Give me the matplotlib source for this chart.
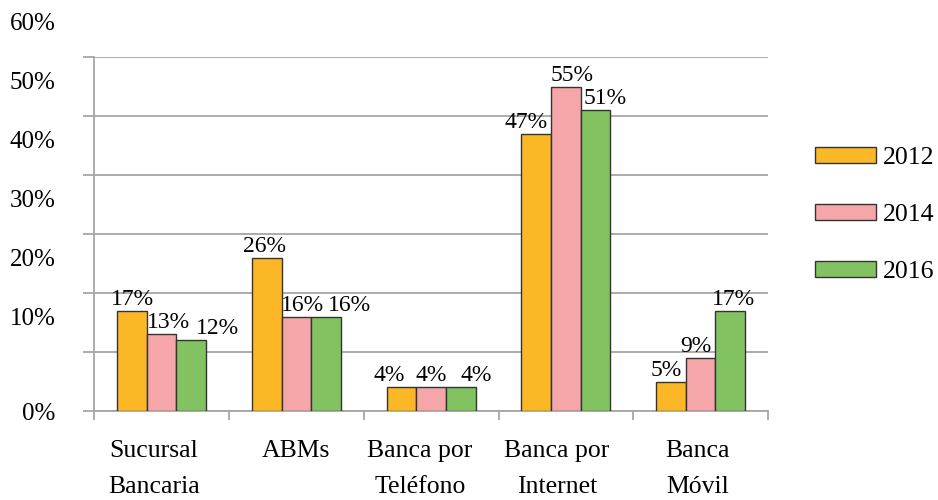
import numpy as np
import matplotlib.pyplot as plt

plt.rcParams['font.family'] = ['Liberation Serif', 'DejaVu Serif']
plt.rcParams['font.size'] = 17

# datos
canales = ['Sucursal\nBancaria', 'ABMs', 'Banca por\nTeléfono', 'Banca por\nInternet', 'Banca\nMóvil']
anios = ['2012', '2014', '2016']
v2012 = [17, 26, 4, 47, 5]
v2014 = [13, 16, 4, 55, 9]
v2016 = [12, 16, 4, 51, 17]
y_ticks = [0, 10, 20, 30, 40, 50, 60]

colores = ['#FBB726', '#F5A6A8', '#82C260']
# desplazamiento horizontal de cada etiqueta (px) para que no se encimen
ajuste_x = [[0, -2, -12, -10, -5],
            [7, 6, 0, 6, -5],
            [26, 23, 15, 10, 3]]
# corrimiento de las etiquetas de categoría (px)
ajuste_cat = [-8, 0, -11, -9, -3]

fig = plt.figure(figsize=(9.38, 5.0), dpi=100)
ax = fig.add_axes([94.3 / 938, 89 / 500, 673.7 / 938, 354 / 500])

x = np.arange(len(canales))
ancho = 0.22
series = [v2012, v2014, v2016]
for i, (vals, col, lab) in enumerate(zip(series, colores, anios)):
    pos = x + (i - 1) * ancho
    barras = ax.bar(pos, vals, ancho, color=col, edgecolor='#333333',
                    linewidth=1.0, label=lab, zorder=3)
    for j, b in enumerate(barras):
        ax.annotate(f'{vals[j]}%', (b.get_x() + b.get_width() / 2, vals[j]),
                    xytext=(ajuste_x[i][j], 1), textcoords='offset pixels',
                    ha='center', va='bottom', fontsize=17, zorder=4)

ax.set_xlim(-0.5, len(canales) - 0.5)
ax.set_ylim(0, 60)

# cuadricula y ejes
gris = '#A6A6A6'
ax.set_yticks(y_ticks)
ax.set_yticklabels([])
ax.yaxis.grid(True, color=gris, linewidth=1.3, zorder=0)
ax.tick_params(axis='y', length=11 * 0.72, width=1.3, color=gris)
# las etiquetas del eje y van algo por encima de cada línea
for v in y_ticks:
    ypos = v + 5.6 if v > 0 else -0.5
    ax.annotate(f'{v}%', (0, ypos), xycoords=('axes fraction', 'data'),
                xytext=(-39, 0), textcoords='offset pixels',
                ha='right', va='center', fontsize=18, annotation_clip=False)

# nombres de los canales bajo cada grupo
ax.set_xticks(np.arange(-0.5, len(canales)))
ax.set_xticklabels([])
ax.tick_params(axis='x', length=9 * 0.72, width=1.3, color=gris)
for xi, nombre, dx in zip(x, canales, ajuste_cat):
    ax.annotate(nombre, (xi, 0), xycoords=('data', 'axes fraction'),
                xytext=(dx, -29), textcoords='offset pixels',
                ha='center', va='top', fontsize=18.5, linespacing=1.8,
                annotation_clip=False)

for s in ['top', 'right']:
    ax.spines[s].set_visible(False)
for s in ['left', 'bottom']:
    ax.spines[s].set_color(gris)
    ax.spines[s].set_linewidth(1.3)

fig.legend(loc='center left', bbox_to_anchor=(815 / 938, 1 - 215 / 500),
           frameon=False, fontsize=18.5, handlelength=2.37, handleheight=0.58,
           handletextpad=0.28, labelspacing=1.35, borderpad=0,
           borderaxespad=0)

fig.savefig('out.png', dpi=100)
